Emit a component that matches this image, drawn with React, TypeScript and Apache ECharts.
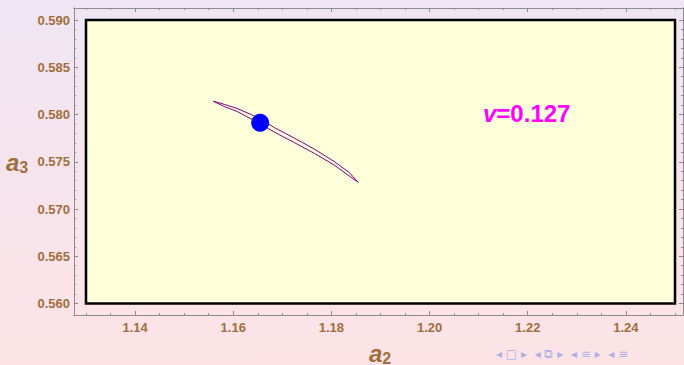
import React, { useEffect, useRef } from "react";
import * as echarts from "echarts";

// Frame (plot region) in data coordinates
const frameX = [1.13, 1.25];
const frameY = [0.56, 0.59];
// Axis extents (axes frame sits slightly outside the plot region)
const axisX = [1.127555, 1.25163];
const axisY = [0.558783, 0.59127];

// Tick labels
const xMajorTicks = [1.14, 1.16, 1.18, 1.2, 1.22, 1.24];
const yMajorTicks = [0.56, 0.565, 0.57, 0.575, 0.58, 0.585, 0.59];

// Closed orbit loop: upper branch then lower branch
const loopX = [
  1.15596, 1.158144, 1.160795, 1.163649, 1.166299, 1.168338, 1.172415, 1.176493, 1.18057, 1.183628, 1.185463,
  1.18322, 1.18057, 1.176493, 1.172415, 1.168338, 1.166299, 1.163649, 1.160795, 1.158144, 1.15596,
];
const loopY = [
  0.5814, 0.581079, 0.580635, 0.58, 0.579312, 0.578624, 0.577513, 0.576349, 0.575026, 0.573862, 0.572825,
  0.573651, 0.574656, 0.575894, 0.577037, 0.578148, 0.578783, 0.579524, 0.580317, 0.580847, 0.5814,
];
// Current point
const pointX = [1.16548];
const pointY = [0.57913];

const label = "v=0.127";

function minorTicks(lo: number, hi: number, step: number, majors: number[]) {
  const out: number[] = [];
  const n = Math.round((hi - lo) / step);
  for (let i = 0; i <= n; i++) {
    const v = +(lo + i * step).toFixed(6);
    if (!majors.some((m) => Math.abs(m - v) < 1e-9)) out.push(v);
  }
  return out;
}

const xMinorTicks = minorTicks(frameX[0], frameX[1], 0.005, xMajorTicks);
const yMinorTicks = minorTicks(frameY[0], frameY[1], 0.001, yMajorTicks);

const brown = "#a06e3c";
const axisGray = "#8c8c8c";
const font = "Liberation Sans";

export default function App() {
  const ref = useRef<HTMLDivElement>(null);
  useEffect(() => {
    if (!ref.current) return;
    const chart = echarts.init(ref.current, null, { renderer: "svg" });

    const mkX = (position: string, major: boolean, labels: boolean) => ({
      type: "value",
      gridIndex: 0,
      position,
      min: axisX[0],
      max: axisX[1],
      axisLine: { show: true, lineStyle: { color: axisGray, width: 1 } },
      axisTick: {
        show: true,
        inside: true,
        length: major ? 4 : 2,
        customValues: major ? xMajorTicks : xMinorTicks,
        lineStyle: { color: axisGray, width: 1 },
      },
      axisLabel: labels
        ? {
            show: true,
            customValues: xMajorTicks,
            formatter: (v: number) => v.toFixed(2),
            color: brown,
            fontFamily: font,
            fontWeight: "bold",
            fontSize: 13,
            margin: 6,
          }
        : { show: false },
      splitLine: { show: false },
    });
    const mkY = (position: string, major: boolean, labels: boolean) => ({
      type: "value",
      gridIndex: 0,
      position,
      min: axisY[0],
      max: axisY[1],
      axisLine: { show: true, lineStyle: { color: axisGray, width: 1 } },
      axisTick: {
        show: true,
        inside: true,
        length: major ? 4 : 2,
        customValues: major ? yMajorTicks : yMinorTicks,
        lineStyle: { color: axisGray, width: 1 },
      },
      axisLabel: labels
        ? {
            show: true,
            customValues: yMajorTicks,
            formatter: (v: number) => v.toFixed(3),
            color: brown,
            fontFamily: font,
            fontWeight: "bold",
            fontSize: 13,
            margin: 4,
          }
        : { show: false },
      splitLine: { show: false },
    });

    chart.setOption({
      animation: false,
      backgroundColor: {
        type: "linear",
        x: 0,
        y: 0,
        x2: 0,
        y2: 1,
        colorStops: [
          { offset: 0, color: "#efe5f3" },
          { offset: 1, color: "#fde3e6" },
        ],
      },
      grid: { left: 74, top: 8, right: 1, bottom: 50, containLabel: false },
      xAxis: [
        mkX("bottom", true, true),
        mkX("bottom", false, false),
        mkX("top", true, false),
        mkX("top", false, false),
      ],
      yAxis: [
        mkY("left", true, true),
        mkY("left", false, false),
        mkY("right", true, false),
        mkY("right", false, false),
      ],
      series: [
        {
          type: "line",
          name: "frame",
          data: [],
          z: 1,
          silent: true,
          markArea: {
            silent: true,
            itemStyle: { color: "#ffffdc", borderColor: "#000000", borderWidth: 2.5 },
            data: [[{ coord: [frameX[0], frameY[0]] }, { coord: [frameX[1], frameY[1]] }]],
          },
        },
        {
          type: "line",
          name: "loop",
          z: 3,
          showSymbol: false,
          symbol: "none",
          data: loopX.map((x, i) => [x, loopY[i]]),
          lineStyle: { color: "#800080", width: 1 },
        },
        {
          type: "scatter",
          name: "point",
          z: 4,
          symbolSize: 18,
          data: pointX.map((x, i) => [x, pointY[i]]),
          itemStyle: { color: "#0000ff", opacity: 1 },
        },
      ],
      graphic: [
        {
          type: "text",
          left: 483,
          top: 101,
          z: 10,
          style: {
            text: "{v|v}{n|" + label.slice(1) + "}",
            rich: {
              v: { fontFamily: font, fontSize: 24, fontWeight: "bold", fontStyle: "italic", fill: "#ff00ff" },
              n: { fontFamily: font, fontSize: 24, fontWeight: "bold", fill: "#ff00ff" },
            },
          },
        },
        {
          type: "text",
          left: 6,
          top: 150,
          style: {
            text: "{a|a}{s|3}",
            rich: {
              a: { fontFamily: font, fontSize: 24, fontWeight: "bold", fontStyle: "italic", fill: brown },
              s: { fontFamily: font, fontSize: 16, fontWeight: "bold", fill: brown, padding: [10, 0, 0, 0] },
            },
          },
        },
        {
          type: "text",
          left: 369,
          top: 341,
          style: {
            text: "{a|a}{s|2}",
            rich: {
              a: { fontFamily: font, fontSize: 24, fontWeight: "bold", fontStyle: "italic", fill: brown },
              s: { fontFamily: font, fontSize: 16, fontWeight: "bold", fill: brown, padding: [10, 0, 0, 0] },
            },
          },
        },
        {
          type: "text",
          left: 496,
          top: 348,
          style: {
            text: "◂ □ ▸  ◂ ⧉ ▸  ◂ ≡ ▸  ◂ ≡",
            fontFamily: "DejaVu Sans",
            fontSize: 12,
            fill: "#aeb0e4",
          },
        },
      ],
    });
    return () => chart.dispose();
  }, []);
  return (
    <div
      ref={ref}
      style={{ position: "absolute", left: 0, top: 0, width: 684, height: 365 }}
    />
  );
}
